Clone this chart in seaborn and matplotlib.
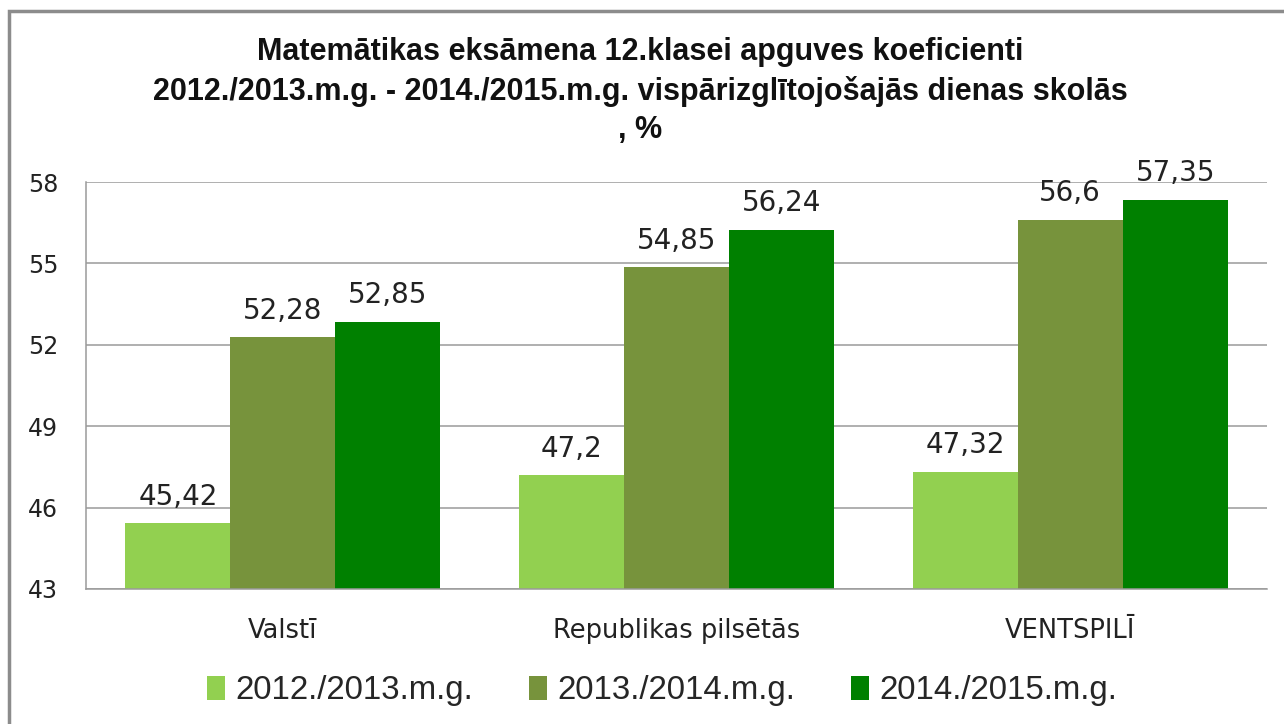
import matplotlib
matplotlib.use("Agg")
import matplotlib.pyplot as plt
import seaborn as sns
import pandas as pd
from matplotlib.patches import Rectangle

categories = ["Valstī", "Republikas pilsētās", "VENTSPILĪ"]
years = ["2012./2013.m.g.", "2013./2014.m.g.", "2014./2015.m.g."]
vals_2013 = [45.42, 47.2, 47.32]
vals_2014 = [52.28, 54.85, 56.6]
vals_2015 = [52.85, 56.24, 57.35]
yticks = [43, 46, 49, 52, 55, 58]
colors = ["#92D050", "#77933C", "#008000"]
title = ("Matemātikas eksāmena 12.klasei apguves koeficienti\n"
         "2012./2013.m.g. - 2014./2015.m.g. vispārizglītojošajās dienas skolās\n"
         ", %")

rows = []
for yr, vals in zip(years, [vals_2013, vals_2014, vals_2015]):
    for c, v in zip(categories, vals):
        rows.append({"cat": c, "year": yr, "val": v})
df = pd.DataFrame(rows)

sns.set_theme(style="white")
plt.rcParams['font.family'] = ['DejaVu Sans']

fig = plt.figure(figsize=(12.84, 7.24), dpi=100)
ax = fig.add_axes([86/1284, 1-589/724, (1267-86)/1284, (589-182)/724])

sns.barplot(data=df, x="cat", y="val", hue="year", order=categories,
            hue_order=years, palette=colors, width=0.8, saturation=1,
            errorbar=None, ax=ax, legend=True, linewidth=0)

ax.set_ylim(43, 58)
ax.set_yticks(yticks)
ax.set_yticklabels([str(t) for t in yticks])
ax.yaxis.grid(True, color="#9a9a9a", linewidth=1.1)
ax.set_axisbelow(True)
ax.set_xlabel("")
ax.set_ylabel("")
for s in ["top", "right"]:
    ax.spines[s].set_visible(False)
for s in ["left", "bottom"]:
    ax.spines[s].set_color("#9a9a9a")
    ax.spines[s].set_linewidth(1.1)
ax.tick_params(axis="y", length=0, pad=20, labelsize=17, labelcolor="#222222")
ax.tick_params(axis="x", length=0, pad=21, labelsize=18.5, labelcolor="#222222")

for cont in ax.containers:
    labels = [f"{b.get_height():g}".replace(".", ",") for b in cont]
    ax.bar_label(cont, labels=labels, padding=9, fontsize=20, color="#222222")

handles, labs = ax.get_legend_handles_labels()
ax.get_legend().remove()
fig.legend(handles, labs, loc="center", bbox_to_anchor=(662/1284, 1-691/724),
           ncol=3, frameon=False, prop={"family": "Liberation Sans", "size": 23.8},
           handlelength=0.55, handleheight=0.75, handletextpad=0.3, columnspacing=1.7)

fig.text(640/1284, 1-91/724, title, ha="center", va="center",
         fontsize=22, fontweight="bold", family="Liberation Sans",
         linespacing=1.35, color="#111111")

fig.patches.append(Rectangle((9/1284, -0.1), 1.2, 1 - 11/724 + 0.1,
                             transform=fig.transFigure, fill=False,
                             edgecolor="#8c8c8c", linewidth=2.5))

fig.savefig("out.png", dpi=100)
